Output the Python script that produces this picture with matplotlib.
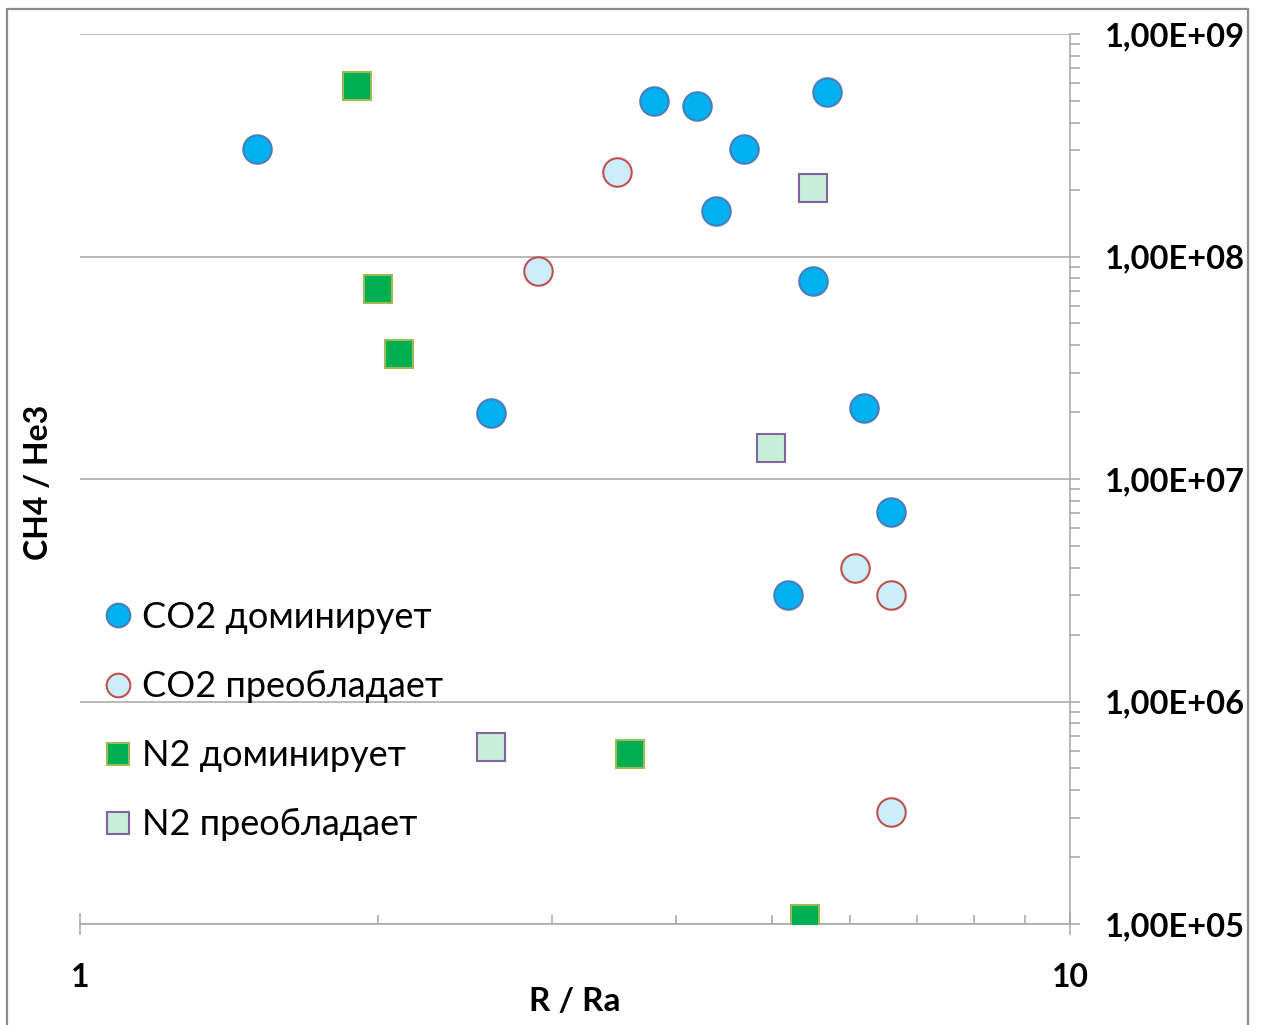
import numpy as np
import matplotlib
matplotlib.use('Agg')
import matplotlib.pyplot as plt
from matplotlib import ticker
from matplotlib.patches import Rectangle

plt.rcParams['font.family'] = ['Lato', 'DejaVu Sans']

# R/Ra and CH4/He3
co2_dom_x = [1.51, 3.80, 4.20, 5.68, 4.69, 4.39, 5.50, 2.60, 6.19, 6.60, 5.19]
co2_dom_y = [3.05e8, 5.0e8, 4.75e8, 5.5e8, 3.05e8, 1.6e8, 7.8e7, 1.98e7, 2.08e7, 7.1e6, 3.0e6]

co2_pre_x = [3.49, 2.90, 6.06, 6.60, 6.60]
co2_pre_y = [2.40e8, 8.6e7, 4.0e6, 3.0e6, 3.2e5]

n2_dom_x = [1.905, 2.00, 2.10, 3.59, 5.40]
n2_dom_y = [5.85e8, 7.15e7, 3.65e7, 5.8e5, 1.05e5]

n2_pre_x = [5.50, 4.99, 2.60]
n2_pre_y = [2.03e8, 1.38e7, 6.25e5]

labels = ['CO2 доминирует', 'CO2 преобладает', 'N2 доминирует', 'N2 преобладает']

gray = '#A6A6A6'

fig = plt.figure(figsize=(12.65, 10.25), dpi=100)
ax = fig.add_axes([80/1265, 1 - 924/1025, 990/1265, 890/1025])

# outer chart border
fig.patches.append(Rectangle((7/1265, -0.05), 1241/1265, 1.05 - 9/1025,
                             transform=fig.transFigure, fill=False,
                             edgecolor='#8C8C8C', linewidth=1.6, zorder=0))

l1, = ax.plot(co2_dom_x, co2_dom_y, 'o', ms=20.5, mfc='#00B0F0', mec='#4A7EBB', mew=1.5, zorder=3)
l2, = ax.plot(co2_pre_x, co2_pre_y, 'o', ms=20.5, mfc='#CCEDFA', mec='#C0504D', mew=1.5, zorder=3)
l3, = ax.plot(n2_dom_x, n2_dom_y, 's', ms=19.5, mfc='#00B050', mec='#9BBB59', mew=1.5, zorder=3)
l4, = ax.plot(n2_pre_x, n2_pre_y, 's', ms=19.5, mfc='#C6EED9', mec='#8064A2', mew=1.5, zorder=3)

ax.set_xscale('log')
ax.set_yscale('log')
ax.set_xlim(1, 10)
ax.set_ylim(1e5, 1e9)

for s in ['left', 'top']:
    ax.spines[s].set_visible(False)
for s in ['bottom', 'right']:
    ax.spines[s].set_color(gray)
    ax.spines[s].set_linewidth(1.1)

ax.yaxis.tick_right()
ax.yaxis.set_major_locator(ticker.LogLocator(base=10, numticks=10))
ax.yaxis.set_minor_locator(ticker.LogLocator(base=10, subs=np.arange(2, 10), numticks=20))
ax.yaxis.set_major_formatter(ticker.FuncFormatter(lambda v, p: '1,00E+%02d' % round(np.log10(v))))
ax.yaxis.set_minor_formatter(ticker.NullFormatter())

ax.xaxis.set_major_locator(ticker.FixedLocator([1, 10]))
ax.xaxis.set_major_formatter(ticker.FixedFormatter(['1', '10']))
ax.xaxis.set_minor_locator(ticker.LogLocator(base=10, subs=np.arange(2, 10), numticks=20))
ax.xaxis.set_minor_formatter(ticker.NullFormatter())

ax.tick_params(axis='y', which='both', direction='out', length=7.2, width=1.1, color=gray,
               labelsize=23.5, pad=18)
ax.tick_params(axis='x', which='major', direction='inout', length=16, width=1.1, color=gray,
               labelsize=23, pad=20)
ax.tick_params(axis='x', which='minor', direction='in', length=6.5, width=1.1, color=gray)
for t in ax.get_xticklabels() + ax.get_yticklabels():
    t.set_fontweight('bold')

ax.yaxis.grid(True, which='major', color=gray, linewidth=1.1)
ax.set_axisbelow(True)

ax.set_xlabel('R / Ra', fontsize=24, fontweight='bold')
ax.xaxis.set_label_coords(0.5, -0.071)
ax.yaxis.set_label_position('left')
ax.set_ylabel('CH4 / He3', fontsize=23, fontweight='bold')
ax.yaxis.set_label_coords(-0.027, 0.4966)

ax.legend([l1, l2, l3, l4], labels, frameon=False, fontsize=26, markerscale=0.83,
          loc='upper left', bbox_to_anchor=(100/1265, 1 - 601/1025),
          bbox_transform=fig.transFigure, borderpad=0, borderaxespad=0,
          handlelength=1.0, handletextpad=0.17, labelspacing=1.0)

fig.savefig('out.png', dpi=100)
